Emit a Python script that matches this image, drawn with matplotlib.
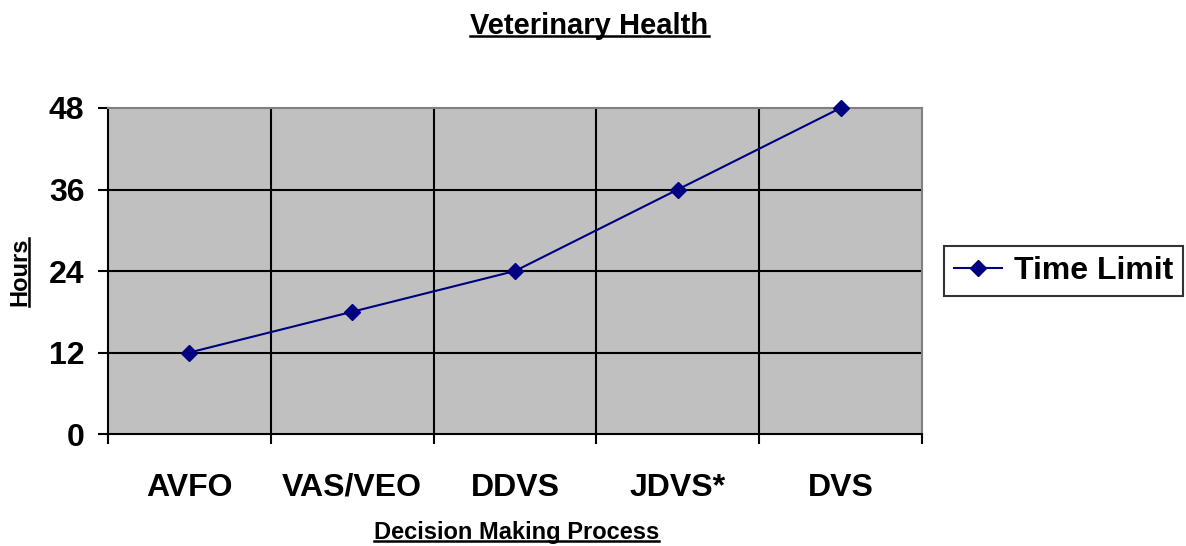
import matplotlib.pyplot as plt
from matplotlib.lines import Line2D

plt.rcParams['font.family'] = ['Liberation Sans', 'DejaVu Sans']
plt.rcParams['font.weight'] = 'bold'

# Data
categories = ['AVFO', 'VAS/VEO', 'DDVS', 'JDVS*', 'DVS']
hours = [12, 18, 24, 36, 48]
y_ticks = [0, 12, 24, 36, 48]

fig = plt.figure(figsize=(11.86, 5.46), dpi=100)
ax = fig.add_axes([0.0911, 0.2051, 0.6863, 0.5971])
ax.set_facecolor('#C0C0C0')

x = list(range(len(categories)))
ax.plot(x, hours, color='#000080', linewidth=1.5, marker='D', markersize=8,
        markerfacecolor='#000080', markeredgecolor='#000080', label='Time Limit',
        zorder=3, clip_on=False)

ax.set_xlim(-0.5, len(categories) - 0.5)
ax.set_ylim(0, 48)

# boundaries as ticks, category names as text on the baseline
ax.set_xticks([i - 0.5 for i in range(len(categories) + 1)])
ax.set_xticklabels([])
ax.tick_params(axis='x', direction='out', length=7, width=1.5, color='black')
for i, cat in enumerate(categories):
    ax.text(i, -0.19, cat, transform=ax.get_xaxis_transform(), ha='center', va='baseline',
            fontsize=23, fontweight='bold')
ax.set_yticks(y_ticks)
ax.set_yticklabels([str(v) for v in y_ticks], fontsize=23, fontweight='bold')
ax.tick_params(axis='y', direction='out', length=7, width=1.5, pad=10)

for i in range(1, len(categories)):
    ax.axvline(i - 0.5, color='black', linewidth=1.5, zorder=1)
for v in y_ticks[1:-1]:
    ax.axhline(v, color='black', linewidth=1.5, zorder=1)

ax.spines['left'].set_linewidth(1.5)
ax.spines['bottom'].set_linewidth(1.5)
ax.spines['top'].set_color('#808080')
ax.spines['right'].set_color('#808080')
ax.spines['top'].set_linewidth(1.5)
ax.spines['right'].set_linewidth(1.5)

title = fig.text(0.497, 0.953, 'Veterinary Health', ha='center', va='center',
                 fontsize=21, fontweight='bold')
xlab = fig.text(0.4355, 0.025, 'Decision Making Process', ha='center', va='center',
                fontsize=17, fontweight='bold')
ylab = fig.text(0.017, 0.502, 'Hours', ha='center', va='center', rotation=90,
                fontsize=17, fontweight='bold')

leg = fig.legend(handles=[Line2D([], [], color='#000080', linewidth=1.5, marker='D',
                                 markersize=8, label='Time Limit')],
                 loc='center left', bbox_to_anchor=(0.796, 0.5037), frameon=True,
                 fancybox=False, edgecolor='black', fontsize=23, handlelength=1.5,
                 borderpad=0.3, handletextpad=0.4, borderaxespad=0)
leg.get_frame().set_linewidth(1.5)
for t in leg.get_texts():
    t.set_fontweight('bold')

# underline the titles
fig.canvas.draw()
r = fig.canvas.get_renderer()
inv = fig.transFigure.inverted()
for t in (title, xlab):
    bb = t.get_window_extent(r)
    (x0, y0), (x1, y1) = inv.transform([(bb.x0, bb.y0), (bb.x1, bb.y1)])
    fig.add_artist(Line2D([x0, x1], [y0 + 0.006, y0 + 0.006], color='black', linewidth=1.8,
                          transform=fig.transFigure))
bb = ylab.get_window_extent(r)
(x0, y0), (x1, y1) = inv.transform([(bb.x0, bb.y0), (bb.x1, bb.y1)])
fig.add_artist(Line2D([x1 - 0.002, x1 - 0.002], [y0, y1], color='black', linewidth=1.8,
                      transform=fig.transFigure))

fig.savefig('out.png', dpi=100)
